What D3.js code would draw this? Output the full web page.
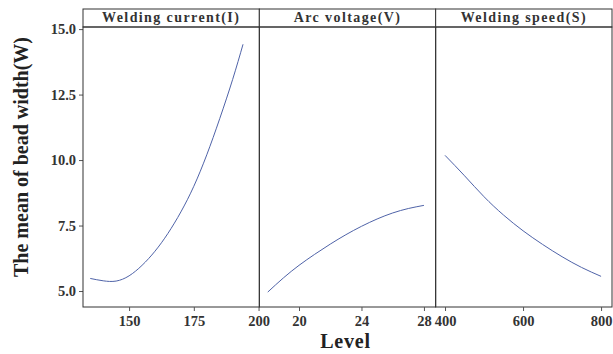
<!DOCTYPE html>
<html>
<head>
<meta charset="utf-8">
<script src="https://cdn.jsdelivr.net/npm/d3@7"></script>
<style>
  body { margin: 0; background: #fff; }
  text { font-family: "Liberation Serif", "Times New Roman", serif; }
</style>
</head>
<body>
<svg id="canvas" width="613" height="354"></svg>
<script>
// facet titles
const factors = ["Welding current(I)", "Arc voltage(V)", "Welding speed(S)"];

// welding current levels and mean bead width
const currentLevel = [135, 140, 145, 150, 155, 160, 165, 170, 175, 180, 185, 190, 194];
const currentMean = [5.48, 5.39, 5.38, 5.58, 5.98, 6.52, 7.2, 8.02, 9.0, 10.2, 11.58, 13.08, 14.42];

// arc voltage levels
const voltageLevel = [18, 19, 20, 21, 22, 23, 24, 25, 26, 27, 28];
const voltageMean = [4.96, 5.5, 5.98, 6.4, 6.79, 7.15, 7.47, 7.75, 7.98, 8.15, 8.27];

// welding speed levels
const speedLevel = [400, 450, 500, 550, 600, 650, 700, 750, 800];
const speedMean = [10.18, 9.4, 8.6, 7.9, 7.3, 6.78, 6.31, 5.9, 5.56];

const xTicks = [[150, 175, 200], [20, 24, 28], [400, 600, 800]];
const xDomains = [[132.2, 200.3], [17.46, 28.75], [376, 828]];
const yTicks = [5.0, 7.5, 10.0, 12.5, 15.0];

const series = [
  currentLevel.map((x, i) => ({ x, y: currentMean[i] })),
  voltageLevel.map((x, i) => ({ x, y: voltageMean[i] })),
  speedLevel.map((x, i) => ({ x, y: speedMean[i] }))
];

const svg = d3.select("svg#canvas");
const plotLeft = 83, plotRight = 612, plotTop = 27, plotBottom = 307, stripTop = 9;
const panelW = (plotRight - plotLeft) / 3;

const y = d3.scaleLinear().domain([4.39, 15.08]).range([plotBottom, plotTop]);

// y axis
const yAxis = svg.append("g")
  .attr("transform", `translate(${plotLeft},0)`)
  .call(d3.axisLeft(y).tickValues(yTicks).tickFormat(d3.format(".1f")).tickSize(4).tickPadding(3));
yAxis.select(".domain").remove();
yAxis.selectAll("line").attr("stroke", "#555");
yAxis.selectAll("text")
  .attr("font-family", "Liberation Serif")
  .attr("font-size", 14.5)
  .attr("font-weight", "bold")
  .attr("fill", "#333");

factors.forEach((name, i) => {
  const x0 = plotLeft + i * panelW;
  const x = d3.scaleLinear().domain(xDomains[i]).range([x0, x0 + panelW]);

  // strip
  svg.append("rect")
    .attr("x", x0).attr("y", stripTop)
    .attr("width", panelW).attr("height", plotTop - stripTop)
    .attr("fill", "#fff").attr("stroke", "#333").attr("stroke-width", 1);
  svg.append("text")
    .attr("x", x0 + panelW / 2).attr("y", plotTop - 5)
    .attr("text-anchor", "middle")
    .attr("font-size", 14).attr("font-weight", "bold")
    .attr("letter-spacing", 1.4)
    .attr("fill", "#333")
    .text(name);

  // panel border
  svg.append("rect")
    .attr("x", x0).attr("y", plotTop)
    .attr("width", panelW).attr("height", plotBottom - plotTop)
    .attr("fill", "none").attr("stroke", "#333").attr("stroke-width", 1);

  // x axis
  const xAxis = svg.append("g")
    .attr("transform", `translate(0,${plotBottom})`)
    .call(d3.axisBottom(x).tickValues(xTicks[i]).tickFormat(d3.format("d")).tickSize(4).tickPadding(5));
  xAxis.select(".domain").remove();
  xAxis.selectAll("line").attr("stroke", "#555");
  xAxis.selectAll("text")
    .attr("font-family", "Liberation Serif")
    .attr("font-size", 14.5)
    .attr("font-weight", "bold")
    .attr("fill", "#333");

  // curve
  const line = d3.line()
    .x(d => x(d.x))
    .y(d => y(d.y))
    .curve(d3.curveNatural);
  svg.append("path")
    .datum(series[i])
    .attr("d", line)
    .attr("fill", "none")
    .attr("stroke", "#4f63a8")
    .attr("stroke-width", 1);
});

// axis titles
svg.append("text")
  .attr("x", (plotLeft + plotRight) / 2 - 2).attr("y", 348)
  .attr("text-anchor", "middle")
  .attr("font-size", 20).attr("font-weight", "bold")
  .attr("letter-spacing", 0.8)
  .attr("fill", "#222")
  .text("Level");

svg.append("text")
  .attr("transform", `translate(28,157) rotate(-90)`)
  .attr("text-anchor", "middle")
  .attr("font-size", 20).attr("font-weight", "bold")
  .attr("fill", "#222")
  .text("The mean of bead width(W)");
</script>
</body>
</html>
